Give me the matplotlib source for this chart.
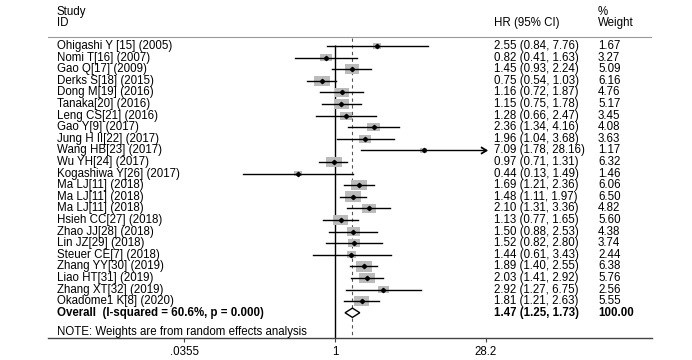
import numpy as np
import matplotlib
matplotlib.use("Agg")
import matplotlib.pyplot as plt
from matplotlib.path import Path
from matplotlib.transforms import blended_transform_factory

plt.rcParams['font.family'] = ['Liberation Sans', 'DejaVu Sans']

studies = ["Ohigashi Y [15] (2005)", "Nomi T[16] (2007)", "Gao Q[17] (2009)",
           "Derks S[18] (2015)", "Dong M[19] (2016)", "Tanaka[20] (2016)",
           "Leng CS[21] (2016)", "Gao Y[9] (2017)", "Jung H II[22] (2017)",
           "Wang HB[23] (2017)", "Wu YH[24] (2017)", "Kogashiwa Y[26] (2017)",
           "Ma LJ[11] (2018)", "Ma LJ[11] (2018)", "Ma LJ[11] (2018)",
           "Hsieh CC[27] (2018)", "Zhao JJ[28] (2018)", "Lin JZ[29] (2018)",
           "Steuer CE[7] (2018)", "Zhang YY[30] (2019)", "Liao HT[31] (2019)",
           "Zhang XT[32] (2019)", "Okadome1 K[8] (2020)"]
hr = [2.55, 0.82, 1.45, 0.75, 1.16, 1.15, 1.28, 2.36, 1.96, 7.09, 0.97, 0.44,
      1.69, 1.48, 2.10, 1.13, 1.50, 1.52, 1.44, 1.89, 2.03, 2.92, 1.81]
lo = [0.84, 0.41, 0.93, 0.54, 0.72, 0.75, 0.66, 1.34, 1.04, 1.78, 0.71, 0.13,
      1.21, 1.11, 1.31, 0.77, 0.88, 0.82, 0.61, 1.40, 1.41, 1.27, 1.21]
hi = [7.76, 1.63, 2.24, 1.03, 1.87, 1.78, 2.47, 4.16, 3.68, 28.16, 1.31, 1.49,
      2.36, 1.97, 3.36, 1.65, 2.53, 2.80, 3.43, 2.55, 2.92, 6.75, 2.63]
weight = [1.67, 3.27, 5.09, 6.16, 4.76, 5.17, 3.45, 4.08, 3.63, 1.17, 6.32, 1.46,
          6.06, 6.50, 4.82, 5.60, 4.38, 3.74, 2.44, 6.38, 5.76, 2.56, 5.55]
overall_hr, overall_lo, overall_hi = 1.47, 1.25, 1.73
overall_weight = "100.00"
overall_label = "Overall  (I-squared = 60.6%, p = 0.000)"
tick_vals = [0.0355, 1, 28.2]
tick_labels = [".0355", "1", "28.2"]
xmax_plot = 28.2

fig = plt.figure(figsize=(6.92, 3.60), dpi=100)
W, H = 692, 360
ax = fig.add_axes([48 / W, (H - 337.7) / H, 604 / W, 337.7 / H])
ax.set_xscale('log')
ax.set_xlim(0.001755, 1107)
ax.set_ylim(25.15, -3.966)
for s in ['top', 'right', 'left']:
    ax.spines[s].set_visible(False)
ax.spines['bottom'].set_color('#444444')
ax.spines['bottom'].set_linewidth(1.0)
ax.set_yticks([])
ax.set_xticks(tick_vals)
ax.set_xticklabels(tick_labels)
ax.minorticks_off()
fs = 8.3
ax.tick_params(axis='x', length=3, width=0.8, pad=3, labelsize=fs, color='#444444')

rows = np.arange(len(studies))
ov_row = len(studies)
tr = blended_transform_factory(ax.transAxes, ax.transData)

# reference lines
ax.vlines(1, -0.1, 25.15, color='black', lw=1.0)
ax.vlines(overall_hr, -0.7, 25.15, color='#555555', lw=0.8, linestyles=(0, (3, 3)))
ax.axhline(-0.78, color='#999999', lw=0.8)

# weight boxes (wider than tall, like the reference)
box = Path([(-0.75, -0.5), (0.75, -0.5), (0.75, 0.5), (-0.75, 0.5), (-0.75, -0.5)],
           [Path.MOVETO, Path.LINETO, Path.LINETO, Path.LINETO, Path.CLOSEPOLY])
ax.scatter(hr, rows, s=np.array(weight) * 21, marker=box, color='#bbbbbb',
           linewidths=0, zorder=2)

# open arrow head for intervals that reach the axis end
chevron = Path([(-1, 0.6), (0, 0), (-1, -0.6)], [Path.MOVETO, Path.LINETO, Path.LINETO])

# confidence intervals
for r, l, h in zip(rows, lo, hi):
    if h >= 0.95 * xmax_plot:
        ax.plot([l, h], [r, r], color='black', lw=1.0, zorder=3)
        ax.plot([h], [r], marker=chevron, ms=8, mfc='none', mec='black',
                mew=1.3, zorder=3)
    else:
        ax.plot([l, h], [r, r], color='black', lw=1.0, zorder=3)
ax.plot(hr, rows, 'D', color='black', ms=2.2, zorder=4)

# overall diamond
ax.fill([overall_lo, overall_hr, overall_hi, overall_hr],
        [ov_row, ov_row - 0.4, ov_row, ov_row + 0.4],
        facecolor='white', edgecolor='black', lw=1.0, zorder=4)

# text columns
x_id, x_hr, x_w = 9 / 604, 446 / 604, 550 / 604
ax.text(x_id, -2.93, "Study", transform=tr, fontsize=fs, va='center')
ax.text(x_id, -1.98, "ID", transform=tr, fontsize=fs, va='center')
ax.text(x_hr, -1.98, "HR (95% CI)", transform=tr, fontsize=fs, va='center')
ax.text(x_w, -2.93, "%", transform=tr, fontsize=fs, va='center')
ax.text(x_w, -1.98, "Weight", transform=tr, fontsize=fs, va='center')

for r, name, e, l, h, w in zip(rows, studies, hr, lo, hi, weight):
    ax.text(x_id, r, name, transform=tr, fontsize=fs, va='center')
    ax.text(x_hr, r, "%.2f (%.2f, %.2f)" % (e, l, h), transform=tr, fontsize=fs, va='center')
    ax.text(x_w, r, "%.2f" % w, transform=tr, fontsize=fs, va='center')

ax.text(x_id, ov_row, overall_label, transform=tr, fontsize=fs, va='center', fontweight='bold')
ax.text(x_hr, ov_row, "%.2f (%.2f, %.2f)" % (overall_hr, overall_lo, overall_hi),
        transform=tr, fontsize=fs, va='center', fontweight='bold')
ax.text(x_w, ov_row, overall_weight, transform=tr, fontsize=fs, va='center',
        fontweight='bold')
ax.text(x_id, 24.65, "NOTE: Weights are from random effects analysis", transform=tr,
        fontsize=fs, va='center')

fig.savefig("out.png", dpi=100, facecolor='white')
